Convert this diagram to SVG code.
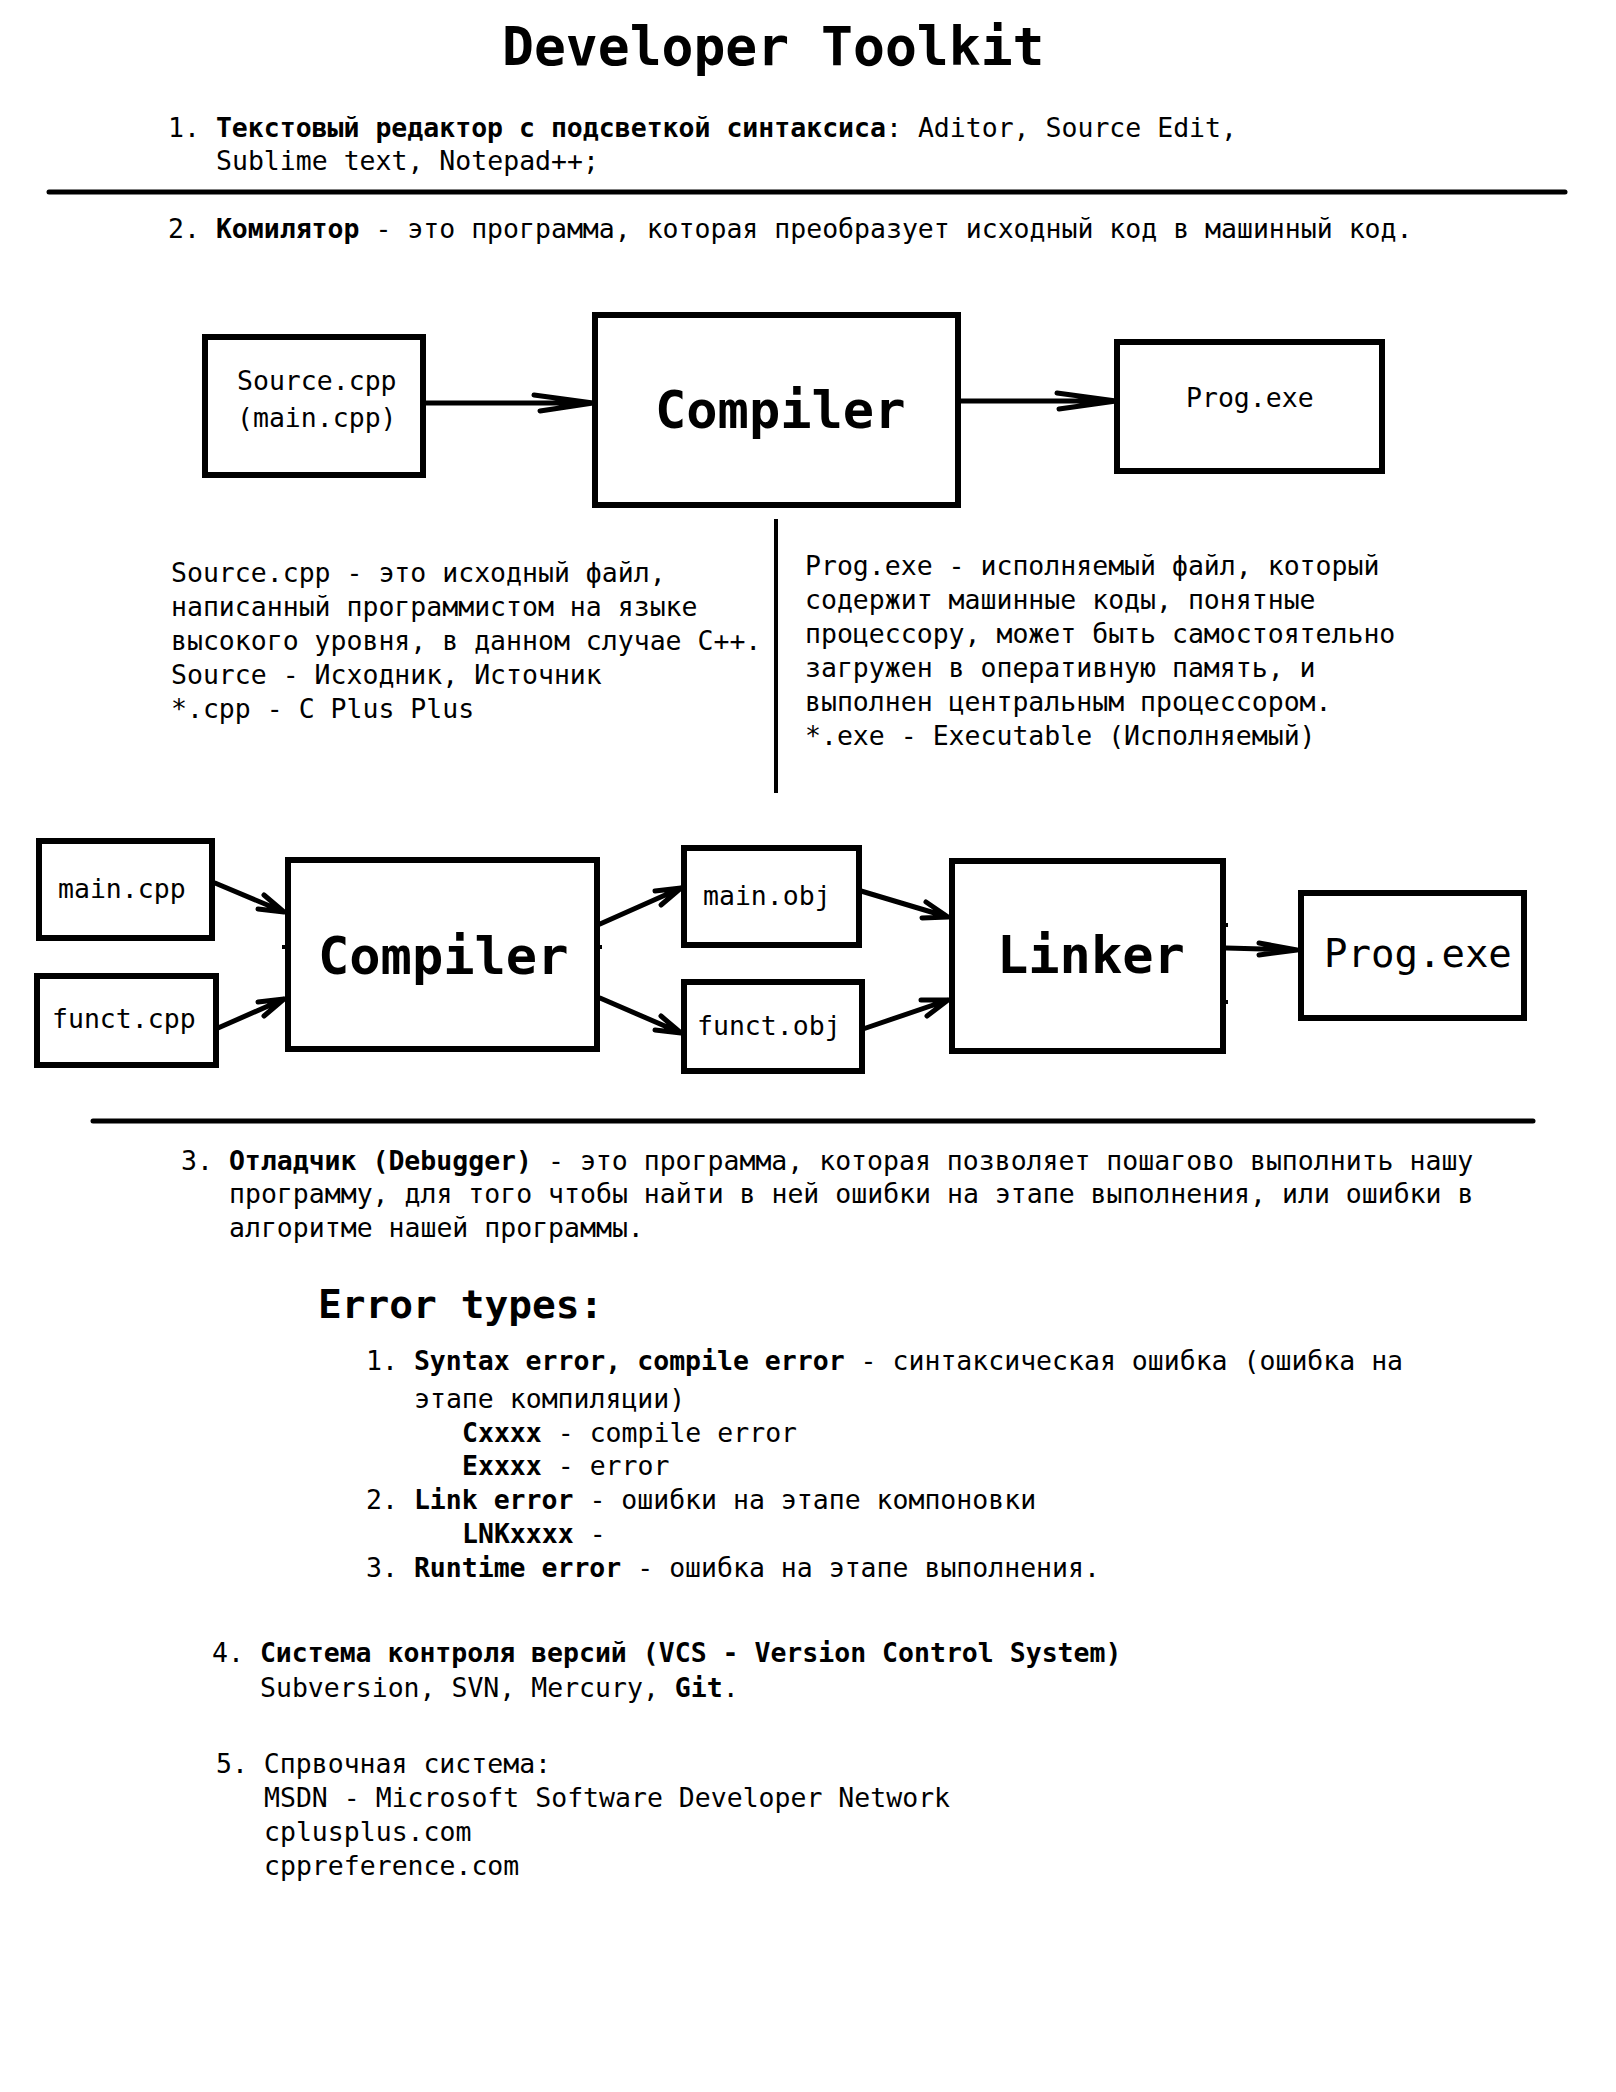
<svg xmlns="http://www.w3.org/2000/svg" width="1616" height="2092" viewBox="0 0 1616 2092">
  <style>
    text { font-family: "DejaVu Sans Mono", "Liberation Mono", monospace; font-size: 26.5px; fill: #000; }
    .b { font-weight: bold; }
    .title { font-size: 53px; font-weight: bold; }
    .big { font-size: 52px; font-weight: bold; }
    .mid { font-size: 39px; }
    .hdr { font-size: 39.5px; font-weight: bold; }
    .box { fill: #fff; stroke: #000; stroke-width: 6; }
    .rule { stroke: #000; stroke-width: 5; stroke-linecap: round; }
    .conn { fill: none; stroke: #000; stroke-width: 5; stroke-linecap: round; stroke-linejoin: round; }
    .tick { stroke: #000; stroke-width: 4; }
  </style>
  <rect width="1616" height="2092" fill="#fff"/>

  <!-- heading -->
  <text class="title" x="502" y="65">Developer Toolkit</text>

  <!-- 1. editors -->
  <text x="168" y="137">1. <tspan class="b">Текстовый редактор с подсветкой синтаксиса</tspan>: Aditor, Source Edit,</text>
  <text x="216" y="170">Sublime text, Notepad++;</text>
  <line class="rule" x1="49" y1="192" x2="1565" y2="192"/>

  <!-- 2. compiler -->
  <text x="168" y="238">2. <tspan class="b">Комилятор</tspan> - это программа, которая преобразует исходный код в машинный код.</text>

  <!-- simple compile scheme -->
  <g id="src">
    <rect class="box" x="205" y="337" width="218" height="138"/>
    <text x="237" y="390">Source.cpp</text>
    <text x="237" y="427">(main.cpp)</text>
  </g>
  <g id="compiler1">
    <rect class="box" x="595" y="315" width="363" height="190"/>
    <text class="big" x="655" y="428">Compiler</text>
  </g>
  <g id="prog1">
    <rect class="box" x="1117" y="342" width="265" height="129"/>
    <text x="1186" y="407">Prog.exe</text>
  </g>

  <!-- descriptions -->
  <line class="rule" x1="776" y1="519" x2="776" y2="793" style="stroke-width:4;stroke-linecap:butt"/>
  <text x="171" y="582">Source.cpp - это исходный файл,</text>
  <text x="171" y="616">написанный программистом на языке</text>
  <text x="171" y="650">высокого уровня, в данном случае C++.</text>
  <text x="171" y="684">Source - Исходник, Источник</text>
  <text x="171" y="718">*.cpp - C Plus Plus</text>

  <text x="805" y="575">Prog.exe - исполняемый файл, который</text>
  <text x="805" y="609">содержит машинные коды, понятные</text>
  <text x="805" y="643">процессору, может быть самостоятельно</text>
  <text x="805" y="677">загружен в оперативную память, и</text>
  <text x="805" y="711">выполнен центральным процессором.</text>
  <text x="805" y="745">*.exe - Executable (Исполняемый)</text>

  <!-- build pipeline -->
  <g id="main-cpp">
    <rect class="box" x="39" y="841" width="173" height="97"/>
    <text x="58" y="898">main.cpp</text>
  </g>
  <g id="funct-cpp">
    <rect class="box" x="37" y="976" width="179" height="89"/>
    <text x="52" y="1028">funct.cpp</text>
  </g>
  <g id="compiler2">
    <rect class="box" x="288" y="860" width="309" height="189"/>
    <text class="big" x="318" y="974">Compiler</text>
    <line class="tick" x1="282" y1="947" x2="287" y2="947"/>
    <line class="tick" x1="598" y1="947" x2="602" y2="947"/>
  </g>
  <g id="main-obj">
    <rect class="box" x="684" y="848" width="175" height="97"/>
    <text x="703" y="905">main.obj</text>
  </g>
  <g id="funct-obj">
    <rect class="box" x="684" y="982" width="178" height="89"/>
    <text x="697" y="1035">funct.obj</text>
  </g>
  <g id="linker">
    <rect class="box" x="952" y="861" width="271" height="190"/>
    <text class="big" x="997" y="973">Linker</text>
    <line class="tick" x1="1224" y1="925" x2="1228" y2="925"/>
    <line class="tick" x1="1224" y1="1002" x2="1228" y2="1002"/>
  </g>
  <g id="prog2">
    <rect class="box" x="1301" y="893" width="223" height="125"/>
    <text class="mid" x="1324" y="967">Prog.exe</text>
  </g>

  <g id="connectors">
    <path class="conn" d="M425 403 H593 M534 395 L593 403 L540 411"/>
    <path class="conn" d="M960 401 H1116 M1057 393 L1116 401 L1059 409"/>
    <path class="conn" d="M215 883 L284 912 M258 909 L284 912 L264 895"/>
    <path class="conn" d="M218 1028 L284 999 M264 1016 L284 999 L258 1002"/>
    <path class="conn" d="M600 924 L681 888 M661 905 L681 888 L655 891"/>
    <path class="conn" d="M600 998 L681 1033 M655 1030 L681 1033 L661 1016"/>
    <path class="conn" d="M861 891 L948 917 M922 918 L948 917 L926 902"/>
    <path class="conn" d="M863 1029 L948 1000 M927 1016 L948 1000 L921 1000"/>
    <path class="conn" d="M1226 948 L1297 950 M1259 943 L1297 950 L1259 955"/>
  </g>

  <line class="rule" x1="93" y1="1121" x2="1533" y2="1121"/>

  <!-- 3. debugger -->
  <text x="181" y="1170">3. <tspan class="b">Отладчик (Debugger)</tspan> - это программа, которая позволяет пошагово выполнить нашу</text>
  <text x="229" y="1203">программу, для того чтобы найти в ней ошибки на этапе выполнения, или ошибки в</text>
  <text x="229" y="1237">алгоритме нашей программы.</text>

  <!-- error types -->
  <text class="hdr" x="318" y="1318">Error types:</text>
  <text x="366" y="1370">1. <tspan class="b">Syntax error, compile error</tspan> - синтаксическая ошибка (ошибка на</text>
  <text x="414" y="1408">этапе компиляции)</text>
  <text x="462" y="1442"><tspan class="b">Cxxxx</tspan> - compile error</text>
  <text x="462" y="1475"><tspan class="b">Exxxx</tspan> - error</text>
  <text x="366" y="1509">2. <tspan class="b">Link error</tspan> - ошибки на этапе компоновки</text>
  <text x="462" y="1543"><tspan class="b">LNKxxxx</tspan> -</text>
  <text x="366" y="1577">3. <tspan class="b">Runtime error</tspan> - ошибка на этапе выполнения.</text>

  <!-- 4. VCS -->
  <text x="212" y="1662">4. <tspan class="b">Система контроля версий (VCS - Version Control System)</tspan></text>
  <text x="260" y="1697">Subversion, SVN, Mercury, <tspan class="b">Git</tspan>.</text>

  <!-- 5. reference -->
  <text x="216" y="1773">5. Спрвочная система:</text>
  <text x="264" y="1807">MSDN - Microsoft Software Developer Network</text>
  <text x="264" y="1841">cplusplus.com</text>
  <text x="264" y="1875">cppreference.com</text>
</svg>
